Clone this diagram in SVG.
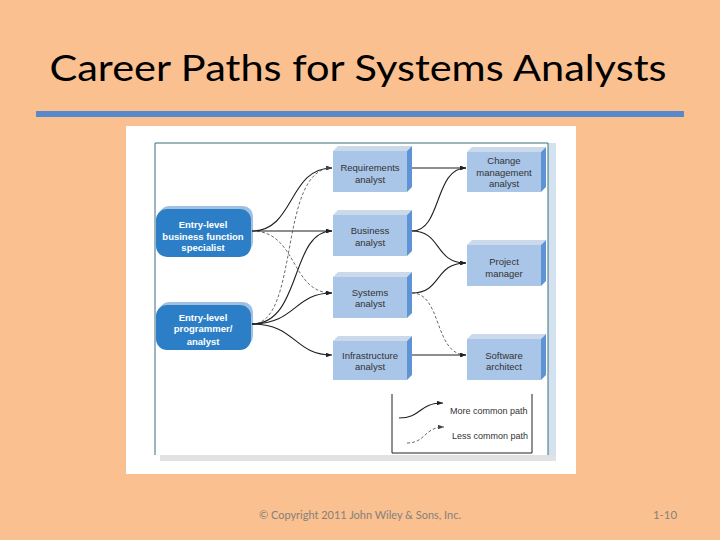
<svg xmlns="http://www.w3.org/2000/svg" width="720" height="540" viewBox="0 0 720 540">
<defs>
<marker id="ah" viewBox="0 0 8 6" refX="8" refY="3" markerWidth="6" markerHeight="4.5" markerUnits="userSpaceOnUse" orient="auto">
<path d="M0,0 L8,3 L0,6 Z" fill="#222"/>
</marker>
<marker id="ahd" viewBox="0 0 8 6" refX="8" refY="3" markerWidth="6" markerHeight="4.5" markerUnits="userSpaceOnUse" orient="auto">
<path d="M0,0 L8,3 L0,6 Z" fill="#444"/>
</marker>
<style>
.title{font-family:Lato,"Open Sans","Liberation Sans",sans-serif;font-size:36px;fill:#000}
.foot{font-family:Lato,"Open Sans","Liberation Sans",sans-serif;font-size:11px;fill:#85807a}
.bx{font-family:"Liberation Sans",Arial,sans-serif;font-size:9.5px;fill:#333;text-anchor:middle}
.ln{font-family:"Liberation Sans",Arial,sans-serif;font-size:9.5px;font-weight:bold;fill:#fff;text-anchor:middle}
.lg{font-family:"Liberation Sans",Arial,sans-serif;font-size:9px;fill:#333}
.face{fill:#A9C5E7}
.top{fill:#CBD9EA}
.side{fill:#5E94D3}
.dback{fill:#9DC0E3}
.dface{fill:#2C7FC6}
.solid{fill:none;stroke:#1e1e1e;stroke-width:1.1;marker-end:url(#ah)}
.dash{fill:none;stroke:#444;stroke-width:0.8;stroke-dasharray:3 2;marker-end:url(#ahd)}
</style>
</defs>
<rect width="720" height="540" fill="#FAC090"/>
<text class="title" x="358" y="81" text-anchor="middle" textLength="617" lengthAdjust="spacingAndGlyphs">Career Paths for Systems Analysts</text>
<rect x="36" y="111" width="648" height="6" fill="#588ACB"/>
<rect x="126" y="126" width="450" height="348" fill="#fff"/>
<rect x="548" y="143" width="8" height="312" fill="#D4E2EF"/>
<rect x="160" y="455" width="396" height="6" fill="#E2E2E2"/>
<path d="M155,455 L155,143 L548,143 L548,455" fill="none" stroke="#3B6E7E" stroke-width="1"/>

<g id="n-specialist">
<rect class="dback" x="159" y="206" width="94" height="46" rx="10"/>
<rect class="dface" x="156" y="209" width="95" height="48" rx="11"/>
<text class="ln" x="203" y="227.5">Entry-level</text>
<text class="ln" x="203" y="239.5">business function</text>
<text class="ln" x="203" y="251">specialist</text>
</g>
<g id="n-programmer">
<rect class="dback" x="159" y="302" width="94" height="44" rx="10"/>
<rect class="dface" x="156" y="305" width="95" height="45" rx="11"/>
<text class="ln" x="203" y="320.5">Entry-level</text>
<text class="ln" x="203" y="332">programmer/</text>
<text class="ln" x="203" y="344.5">analyst</text>
</g>

<g id="n-requirements">
<polygon class="top" points="333,151 338,146 412,146 407,151"/>
<polygon class="side" points="407,151 412,146 412,187 407,192"/>
<rect class="face" x="333" y="151" width="74" height="41"/>
<text class="bx" x="370" y="171">Requirements</text>
<text class="bx" x="370" y="182.5">analyst</text>
</g>
<g id="n-business">
<polygon class="top" points="333,215 338,210 412,210 407,215"/>
<polygon class="side" points="407,215 412,210 412,251 407,256"/>
<rect class="face" x="333" y="215" width="74" height="41"/>
<text class="bx" x="370" y="234">Business</text>
<text class="bx" x="370" y="245.5">analyst</text>
</g>
<g id="n-systems">
<polygon class="top" points="333,277 338,272 412,272 407,277"/>
<polygon class="side" points="407,277 412,272 412,313 407,318"/>
<rect class="face" x="333" y="277" width="74" height="41"/>
<text class="bx" x="370" y="295.5">Systems</text>
<text class="bx" x="370" y="307">analyst</text>
</g>
<g id="n-infrastructure">
<polygon class="top" points="333,341 338,336 412,336 407,341"/>
<polygon class="side" points="407,341 412,336 412,375 407,380"/>
<rect class="face" x="333" y="341" width="74" height="39"/>
<text class="bx" x="370" y="358.5">Infrastructure</text>
<text class="bx" x="370" y="370">analyst</text>
</g>

<g id="n-change">
<polygon class="top" points="467,152 472,147 546,147 541,152"/>
<polygon class="side" points="541,152 546,147 546,187 541,192"/>
<rect class="face" x="467" y="152" width="74" height="40"/>
<text class="bx" x="504" y="164">Change</text>
<text class="bx" x="504" y="175.5">management</text>
<text class="bx" x="504" y="187">analyst</text>
</g>
<g id="n-project">
<polygon class="top" points="467,245 472,240 546,240 541,245"/>
<polygon class="side" points="541,245 546,240 546,281 541,286"/>
<rect class="face" x="467" y="245" width="74" height="41"/>
<text class="bx" x="504" y="265">Project</text>
<text class="bx" x="504" y="276.5">manager</text>
</g>
<g id="n-software">
<polygon class="top" points="467,339 472,334 546,334 541,339"/>
<polygon class="side" points="541,339 546,334 546,375 541,380"/>
<rect class="face" x="467" y="339" width="74" height="41"/>
<text class="bx" x="504" y="358.5">Software</text>
<text class="bx" x="504" y="370">architect</text>
</g>

<g id="connectors">
<path class="solid" d="M252,231 C295,231 288,168 332,168"/>
<path class="solid" d="M252,231 L332,231"/>
<path class="dash" d="M252,231 C298,231 290,293 332,293"/>
<path class="dash" d="M252,324 C300,324 278,168 332,168"/>
<path class="solid" d="M252,324 C302,324 290,231 332,231"/>
<path class="solid" d="M252,324 C296,324 294,293 332,293"/>
<path class="solid" d="M252,324 C296,324 294,355 332,355"/>
<path class="solid" d="M412,168 L466,168"/>
<path class="solid" d="M412,231 C442,231 434,168 466,168"/>
<path class="solid" d="M412,231 C442,231 434,263 466,263"/>
<path class="solid" d="M412,293 C442,293 434,263 466,263"/>
<path class="dash" d="M412,293 C442,293 434,355 466,355"/>
<path class="solid" d="M412,355 L466,355"/>
</g>

<g id="legend">
<path d="M392,394 L392,453 L532,453 L532,394" fill="none" stroke="#222" stroke-width="1"/>
<path class="solid" d="M399,418 C422,418 418,403 443,403"/>
<path class="dash" d="M407,443 C426,443 424,427 444,427"/>
<text class="lg" x="450" y="414">More common path</text>
<text class="lg" x="452" y="439">Less common path</text>
</g>

<text class="foot" x="259" y="519" textLength="202" lengthAdjust="spacingAndGlyphs">© Copyright 2011 John Wiley &amp; Sons, Inc.</text>
<text class="foot" x="653" y="519" textLength="24" lengthAdjust="spacingAndGlyphs">1-10</text>
</svg>
